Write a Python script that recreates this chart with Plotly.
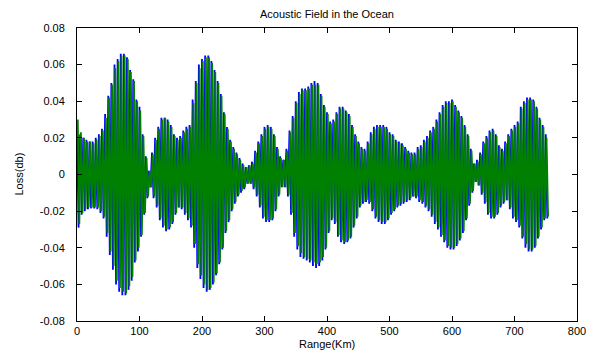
import plotly.graph_objects as go

# Range samples (km), one pair of half-cycle extrema every 5 km
range_start_km = 0
range_step_km = 5

# Blue series: upper / lower extrema
blue_upper = [0.027, 0.022, 0.020, 0.019, 0.018, 0.018, 0.020, 0.022, 0.025, 0.033,
              0.043, 0.050, 0.060, 0.063, 0.066, 0.066, 0.064, 0.057, 0.052, 0.041,
              0.037, 0.022, 0.010, 0.002, 0.012, 0.020, 0.026, 0.031, 0.031, 0.030,
              0.027, 0.022, 0.020, 0.021, 0.024, 0.026, 0.027, 0.041, 0.051, 0.060,
              0.063, 0.065, 0.065, 0.062, 0.057, 0.051, 0.044, 0.034, 0.026, 0.019,
              0.015, 0.012, 0.009, 0.006, 0.004, 0.005, 0.007, 0.013, 0.018, 0.022,
              0.026, 0.027, 0.026, 0.022, 0.015, 0.010, 0.008, 0.014, 0.024, 0.032,
              0.040, 0.045, 0.047, 0.047, 0.048, 0.050, 0.051, 0.050, 0.044, 0.038,
              0.034, 0.029, 0.030, 0.034, 0.037, 0.037, 0.035, 0.033, 0.027, 0.022,
              0.018, 0.015, 0.014, 0.018, 0.023, 0.026, 0.027, 0.027, 0.027, 0.026,
              0.023, 0.022, 0.019, 0.018, 0.017, 0.015, 0.013, 0.012, 0.012, 0.015,
              0.016, 0.019, 0.021, 0.024, 0.026, 0.030, 0.034, 0.038, 0.040, 0.040,
              0.041, 0.038, 0.035, 0.032, 0.027, 0.022, 0.014, 0.006, 0.008, 0.012,
              0.018, 0.021, 0.024, 0.025, 0.022, 0.016, 0.014, 0.018, 0.022, 0.025,
              0.027, 0.029, 0.037, 0.040, 0.042, 0.042, 0.041, 0.037, 0.031, 0.027,
              0.022]
blue_lower = [-0.029, -0.022, -0.020, -0.019, -0.0185, -0.0185, -0.019, -0.021, -0.024, -0.034,
              -0.044, -0.052, -0.060, -0.064, -0.066, -0.066, -0.063, -0.058, -0.048, -0.042,
              -0.034, -0.022, -0.013, -0.007, -0.013, -0.018, -0.025, -0.029, -0.031, -0.030,
              -0.027, -0.022, -0.018, -0.019, -0.022, -0.025, -0.029, -0.040, -0.051, -0.057,
              -0.062, -0.064, -0.063, -0.060, -0.055, -0.049, -0.041, -0.032, -0.026, -0.020,
              -0.016, -0.012, -0.010, -0.008, -0.005, -0.005, -0.008, -0.012, -0.018, -0.024,
              -0.026, -0.026, -0.025, -0.020, -0.012, -0.007, -0.007, -0.012, -0.022, -0.034,
              -0.041, -0.045, -0.046, -0.047, -0.048, -0.050, -0.051, -0.050, -0.047, -0.041,
              -0.032, -0.025, -0.027, -0.034, -0.037, -0.038, -0.037, -0.035, -0.029, -0.024,
              -0.018, -0.016, -0.015, -0.016, -0.020, -0.024, -0.026, -0.027, -0.027, -0.025,
              -0.022, -0.020, -0.018, -0.017, -0.016, -0.015, -0.014, -0.012, -0.013, -0.015,
              -0.016, -0.018, -0.020, -0.023, -0.027, -0.030, -0.034, -0.037, -0.040, -0.041,
              -0.041, -0.039, -0.036, -0.032, -0.025, -0.017, -0.010, -0.004, -0.006, -0.011,
              -0.016, -0.022, -0.024, -0.024, -0.022, -0.018, -0.016, -0.014, -0.019, -0.024,
              -0.026, -0.029, -0.035, -0.040, -0.042, -0.042, -0.040, -0.035, -0.030, -0.025,
              -0.024]

# Green series: upper / lower extrema
green_upper = [0.030, 0.023, 0.020, 0.018, 0.018, 0.017, 0.019, 0.021, 0.024, 0.031,
               0.042, 0.049, 0.058, 0.062, 0.065, 0.065, 0.063, 0.056, 0.051, 0.040,
               0.035, 0.021, 0.009, 0.002, 0.011, 0.019, 0.025, 0.030, 0.031, 0.029,
               0.026, 0.021, 0.019, 0.020, 0.023, 0.025, 0.026, 0.039, 0.050, 0.058,
               0.062, 0.064, 0.064, 0.061, 0.056, 0.050, 0.043, 0.033, 0.025, 0.018,
               0.014, 0.011, 0.008, 0.005, 0.004, 0.005, 0.006, 0.012, 0.017, 0.021,
               0.025, 0.026, 0.025, 0.021, 0.014, 0.009, 0.008, 0.013, 0.023, 0.031,
               0.039, 0.044, 0.046, 0.046, 0.047, 0.049, 0.049, 0.049, 0.043, 0.037,
               0.033, 0.028, 0.029, 0.033, 0.036, 0.036, 0.034, 0.032, 0.026, 0.021,
               0.017, 0.014, 0.013, 0.017, 0.022, 0.025, 0.026, 0.026, 0.026, 0.025,
               0.022, 0.021, 0.018, 0.017, 0.016, 0.014, 0.012, 0.011, 0.011, 0.014,
               0.015, 0.018, 0.020, 0.023, 0.025, 0.029, 0.033, 0.037, 0.039, 0.039,
               0.040, 0.037, 0.034, 0.031, 0.026, 0.021, 0.013, 0.006, 0.007, 0.011,
               0.017, 0.020, 0.023, 0.024, 0.021, 0.015, 0.013, 0.017, 0.021, 0.024,
               0.026, 0.028, 0.036, 0.039, 0.041, 0.041, 0.040, 0.036, 0.030, 0.026,
               0.020]
green_lower = [-0.027, -0.021, -0.019, -0.018, -0.018, -0.018, -0.018, -0.020, -0.023, -0.032,
               -0.042, -0.050, -0.058, -0.062, -0.064, -0.065, -0.061, -0.056, -0.047, -0.040,
               -0.033, -0.021, -0.012, -0.007, -0.012, -0.017, -0.024, -0.028, -0.030, -0.029,
               -0.026, -0.021, -0.018, -0.018, -0.021, -0.024, -0.028, -0.038, -0.049, -0.055,
               -0.060, -0.063, -0.062, -0.059, -0.054, -0.048, -0.040, -0.031, -0.025, -0.019,
               -0.015, -0.011, -0.009, -0.007, -0.005, -0.005, -0.007, -0.011, -0.017, -0.023,
               -0.025, -0.025, -0.024, -0.019, -0.011, -0.007, -0.007, -0.011, -0.021, -0.032,
               -0.039, -0.043, -0.045, -0.046, -0.047, -0.048, -0.049, -0.048, -0.045, -0.040,
               -0.031, -0.024, -0.026, -0.033, -0.036, -0.037, -0.036, -0.034, -0.028, -0.023,
               -0.017, -0.015, -0.014, -0.015, -0.019, -0.023, -0.025, -0.026, -0.026, -0.024,
               -0.021, -0.019, -0.017, -0.016, -0.015, -0.014, -0.013, -0.012, -0.012, -0.014,
               -0.015, -0.017, -0.019, -0.022, -0.026, -0.029, -0.033, -0.036, -0.039, -0.040,
               -0.040, -0.038, -0.035, -0.031, -0.024, -0.016, -0.009, -0.004, -0.006, -0.010,
               -0.015, -0.021, -0.023, -0.023, -0.021, -0.017, -0.015, -0.014, -0.018, -0.023,
               -0.025, -0.028, -0.034, -0.038, -0.041, -0.041, -0.039, -0.034, -0.029, -0.024,
               -0.023]

x_ticks = [0, 100, 200, 300, 400, 500, 600, 700, 800]
y_ticks = [-0.08, -0.06, -0.04, -0.02, 0, 0.02, 0.04, 0.06, 0.08]
y_tick_labels = ["-0.08", "-0.06", "-0.04", "-0.02", "0", "0.02", "0.04", "0.06", "0.08"]


def zigzag(upper, lower, offset):
    xs, ys = [], []
    for i in range(len(upper)):
        base = range_start_km + i * range_step_km + offset
        xs += [base, base + range_step_km / 2]
        ys += [upper[i], lower[i]]
    return xs, ys


bx, by = zigzag(blue_upper, blue_lower, 0.0)
gx, gy = zigzag(green_upper, green_lower, 1.25)

fig = go.Figure()
fig.add_trace(go.Scatter(x=bx, y=by, mode="lines",
                         line=dict(color="#0000FF", width=1.8), showlegend=False))
fig.add_trace(go.Scatter(x=gx, y=gy, mode="lines",
                         line=dict(color="#008000", width=1.8), showlegend=False))

font_family = "Liberation Sans, Arial, sans-serif"
axis_common = dict(showgrid=False, zeroline=False, showline=True, linecolor="black",
                   linewidth=1, mirror="allticks", ticks="inside", ticklen=5,
                   tickcolor="black", automargin=False,
                   tickfont=dict(family=font_family, size=11, color="black"))

# The page body has an 8 px default margin, so the figure is sized/offset to compensate.
fig.update_layout(
    width=586, height=343,
    margin=dict(l=69, r=17, t=20, b=30),
    paper_bgcolor="white", plot_bgcolor="white",
    font=dict(family=font_family, size=11, color="black"),
    xaxis=dict(range=[0, 800], tickvals=x_ticks, ticktext=[str(v) for v in x_ticks],
               ticklabelstandoff=0, **axis_common),
    yaxis=dict(range=[-0.08, 0.08], tickvals=y_ticks, ticktext=y_tick_labels,
               ticklabelstandoff=9, **axis_common),
    annotations=[
        dict(text="Range(Km)", xref="paper", yref="paper",
             x=0.5, y=(321 - 344) / 293, xanchor="center", yanchor="middle",
             showarrow=False, borderpad=0,
             font=dict(family=font_family, size=11, color="black")),
        dict(text="Acoustic Field in the Ocean", xref="paper", yref="paper",
             x=0.5, y=(321 - 14) / 293, xanchor="center", yanchor="middle",
             showarrow=False, font=dict(family=font_family, size=11, color="black")),
        dict(text="Loss(db)", xref="paper", yref="paper",
             x=(18 - 77) / 500, y=0.5, xanchor="center", yanchor="middle",
             textangle=-90, showarrow=False,
             font=dict(family=font_family, size=11, color="black")),
    ],
)

fig.write_html("out.html")
